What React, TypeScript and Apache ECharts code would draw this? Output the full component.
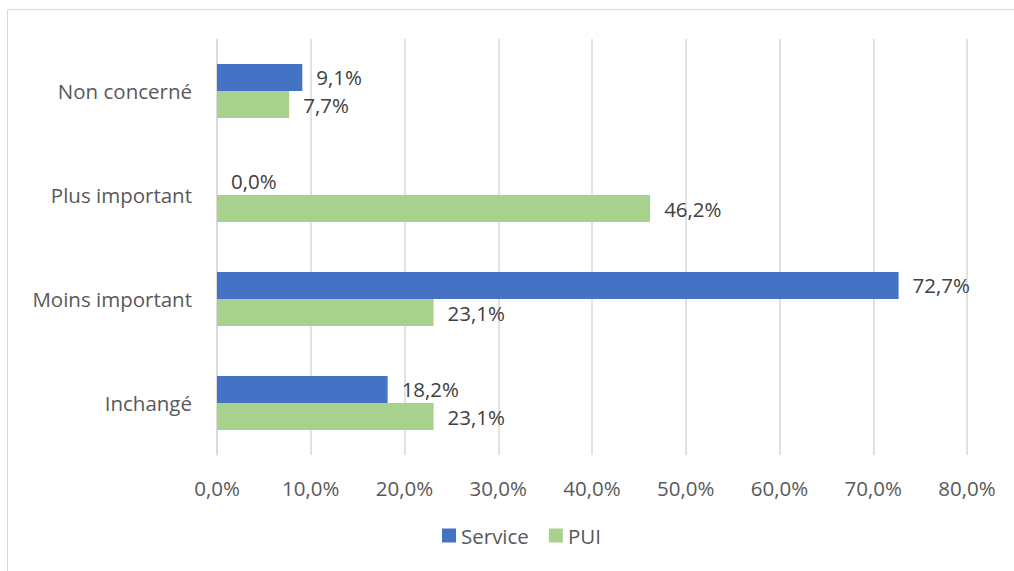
import React, { useEffect, useRef } from "react";
import * as echarts from "echarts";

const categories = ["Inchangé", "Moins important", "Plus important", "Non concerné"];
const serviceValues = [18.2, 72.7, 0.0, 9.1];
const puiValues = [23.1, 23.1, 46.2, 7.7];
const seriesNames = ["Service", "PUI"];
const xTicks = { min: 0, max: 80, interval: 10 };

const FONT = "'Open Sans', 'Noto Sans', sans-serif";
const FS = 20.5;
const fmt = (v: number) => v.toFixed(1).replace(".", ",") + "%";

export default function App() {
  const ref = useRef<HTMLDivElement>(null);
  useEffect(() => {
    document.body.style.margin = "0";
    const chart = echarts.init(ref.current!, null, { renderer: "svg" });
    const label = {
      show: true,
      position: "right" as const,
      distance: 14,
      color: "#404040",
      fontSize: FS,
      fontFamily: FONT,
      formatter: (p: any) => fmt(p.value),
    };
    chart.setOption({
      animation: false,
      backgroundColor: "#ffffff",
      graphic: [
        {
          type: "rect",
          shape: { x: 7.5, y: 9.5, width: 1100, height: 700 },
          style: { fill: "none", stroke: "#d9d9d9", lineWidth: 1 },
          silent: true,
        },
      ],
      grid: { left: 217, right: 47, top: 39, bottom: 116, containLabel: false },
      legend: {
        bottom: 20,
        left: 437,
        itemWidth: 14,
        itemHeight: 14,
        itemGap: 20,
        icon: "rect",
        textStyle: { color: "#595959", fontSize: FS, fontFamily: FONT },
        data: seriesNames,
      },
      xAxis: {
        type: "value",
        min: xTicks.min,
        max: xTicks.max,
        interval: xTicks.interval,
        axisLine: { show: false },
        axisTick: { show: false },
        splitLine: { lineStyle: { color: "#d9d9d9", width: 1.5 } },
        axisLabel: {
          color: "#595959",
          fontSize: FS,
          fontFamily: FONT,
          margin: 22,
          formatter: (v: number) => fmt(v),
        },
      },
      yAxis: {
        type: "category",
        data: categories,
        axisLine: { show: true, lineStyle: { color: "#d9d9d9", width: 1.5 } },
        axisTick: { show: false },
        axisLabel: { color: "#595959", fontSize: FS, fontFamily: FONT, margin: 25 },
      },
      series: [
        {
          name: seriesNames[0],
          type: "bar",
          data: serviceValues,
          itemStyle: { color: "#4472C4" },
          barGap: "0%",
          barCategoryGap: "48%",
          label,
        },
        {
          name: seriesNames[1],
          type: "bar",
          data: puiValues,
          itemStyle: { color: "#A9D18E" },
          barGap: "0%",
          barCategoryGap: "48%",
          label,
        },
      ],
    });
    return () => chart.dispose();
  }, []);
  return (
    <div
      ref={ref}
      style={{ position: "fixed", left: 0, top: 0, width: 1014, height: 571 }}
    />
  );
}
